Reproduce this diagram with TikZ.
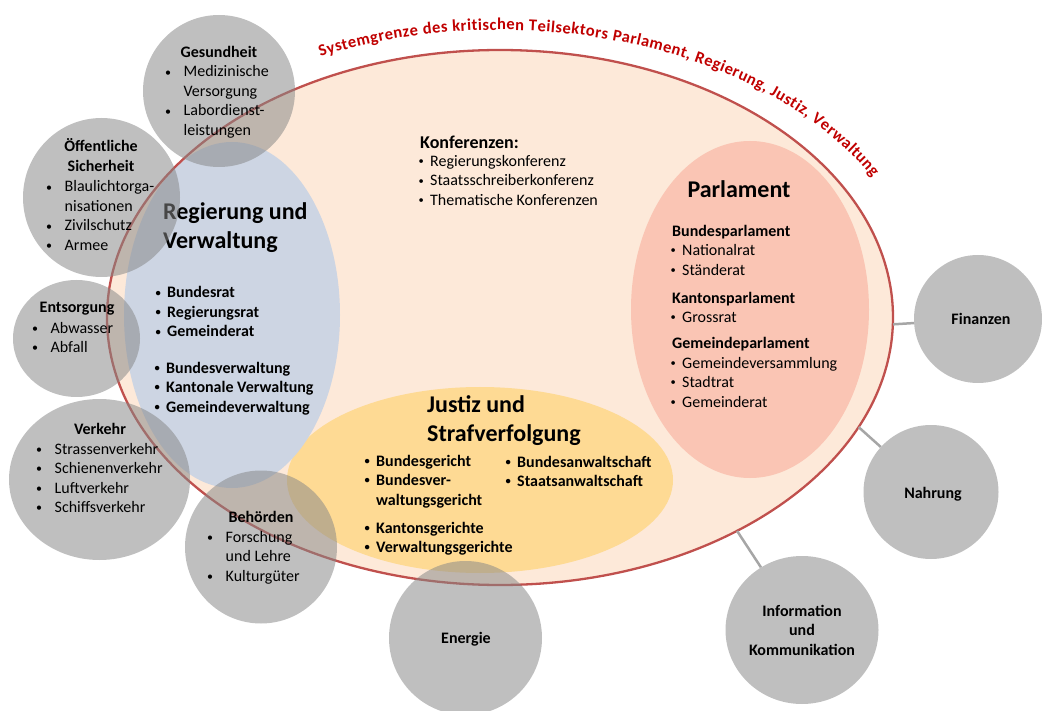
\documentclass[tikz,border=0pt]{standalone}
\usepackage{fontspec}
\setmainfont{Carlito}
\usetikzlibrary{shapes.geometric,decorations.text}
\definecolor{peach}{HTML}{FDE9D9}
\definecolor{sysred}{HTML}{C0504D}
\definecolor{regblue}{HTML}{CDD5E3}
\definecolor{parl}{HTML}{FAC5B4}
\definecolor{just}{HTML}{FEDA94}
\definecolor{cgrey}{HTML}{878787}
\definecolor{conngrey}{HTML}{A6A6A6}
\definecolor{arcred}{HTML}{C00000}
\newcommand\bulA{\makebox[19.5pt][l]{\hspace*{1pt}\fontsize{12}{12}\selectfont\raisebox{0.8pt}{•}}}
\newcommand\indA{\hspace*{19.5pt}}
\newcommand\bulB{\makebox[13pt][l]{\hspace*{1.5pt}\fontsize{10.5}{10.5}\selectfont\raisebox{1.6pt}{•}}}
\newcommand\indB{\hspace*{13pt}}
\newcommand\arcfnt{\bfseries\fontsize{16.5}{18}\selectfont}
\begin{document}
\begin{tikzpicture}[x=1pt,y=1pt,
  ell/.style={ellipse, inner sep=0pt, draw=none},
  cat/.style={ellipse, inner sep=0pt, fill=cgrey, fill opacity=0.53, draw=none},
  body/.style={inner sep=0pt, align=left, anchor=base west, font=\fontsize{16}{19.5}\selectfont},
  bbody/.style={body, font=\fontsize{16}{19.5}\selectfont\bfseries},
  ttl/.style={inner sep=0pt, align=left, anchor=base west, font=\fontsize{24}{28.5}\selectfont\bfseries},
  ctitle/.style={inner sep=0pt, align=center, anchor=base, font=\fontsize{16}{19.5}\selectfont\bfseries},
  link/.style={draw=conngrey, line width=2.5pt},
]
\useasboundingbox (0,0) rectangle (1042,-711);

% main sector ellipse and inner areas
\node[ell, fill=peach, minimum width=786pt, minimum height=535pt] (sys) at (500,-317.5) {};
\node[ell, fill=just, minimum width=386pt, minimum height=186pt] (jus) at (480,-480) {};
\node[ell, fill=regblue, minimum width=216pt, minimum height=346pt] (reg) at (232,-315) {};
\node[ell, fill=parl, minimum width=238pt, minimum height=337pt] (par) at (750,-309.5) {};
\draw[sysred, line width=2.3pt] (sys.center) ellipse [x radius=393, y radius=267.5];

% (multi-line nodes are anchored at the baseline of their last line)
% Konferenzen
\node[inner sep=0pt, anchor=base west, font=\fontsize{18}{20}\selectfont\bfseries] (konf-t) at (420,-149) {Konferenzen:};
\node[body] (konf-l) at (417,-205.5) {\bulB Regierungskonferenz\\\bulB Staatsschreiberkonferenz\\\bulB Thematische Konferenzen};

% Regierung und Verwaltung
\node[ttl] (reg-t) at (163,-248.5) {Regierung und\\Verwaltung};
\node[bbody] (reg-l1) at (154,-337) {\bulB Bundesrat\\\bulB Regierungsrat\\\bulB Gemeinderat};
\node[bbody] (reg-l2) at (153,-412) {\bulB Bundesverwaltung\\\bulB Kantonale Verwaltung\\\bulB Gemeindeverwaltung};

% Parlament
\node[inner sep=0pt, anchor=base, font=\fontsize{24}{28.5}\selectfont\bfseries] (par-t) at (739,-198) {Parlament};
\node[body] (par-l) at (669,-407) {\hspace*{3pt}\textbf{Bundesparlament}\\\bulB Nationalrat\\\bulB Ständerat\\[8.5pt]
\hspace*{3pt}\textbf{Kantonsparlament}\\\bulB Grossrat\\[6.5pt]
\hspace*{3pt}\textbf{Gemeindeparlament}\\\bulB Gemeindeversammlung\\\bulB Stadtrat\\\bulB Gemeinderat};

% Justiz
\node[ttl] (jus-t) at (427,-441.5) {Justiz und\\Strafverfolgung};
\node[bbody] (jus-l) at (363,-552.5) {\bulB Bundesgericht\\\bulB Bundesver-\\\indB waltungsgericht\\[8.5pt]\bulB Kantonsgerichte\\\bulB Verwaltungsgerichte};
\node[bbody] (jus-r) at (504,-486.5) {\bulB Bundesanwaltschaft\\\bulB Staatsanwaltschaft};

% connectors
\node[cat, minimum width=128pt, minimum height=128pt] (fin) at (978,-319) {};
\node[cat, minimum width=135pt, minimum height=134pt] (nah) at (931,-492) {};
\node[cat, minimum width=153pt, minimum height=148pt] (ikt) at (802,-630) {};
\draw[link] (sys.-1) -- (fin);
\draw[link] (sys.-17) -- (nah);
\draw[link] (sys.-42) -- (ikt);

% grey sector circles
\node[cat, minimum width=152pt, minimum height=152pt] (ges) at (219,-91) {};
\node[cat, minimum width=157pt, minimum height=159pt] (oef) at (101.5,-197.5) {};
\node[cat, minimum width=127pt, minimum height=117pt] (ent) at (76.5,-338.5) {};
\node[cat, minimum width=181pt, minimum height=161pt] (ver) at (99.5,-479.5) {};
\node[cat, minimum width=152pt, minimum height=153pt] (beh) at (261,-547) {};
\node[cat, minimum width=153pt, minimum height=154pt] (ene) at (465.5,-638) {};

% circle texts
\node[ctitle] (ges-t) at (219,-58) {Gesundheit};
\node[body] (ges-l) at (164,-135.5) {\bulA Medizinische\\\indA Versorgung\\\bulA Labordienst-\\\indA leistungen};
\node[ctitle] (oef-t) at (101,-171.5) {Öffentliche\\Sicherheit};
\node[body] (oef-l) at (45,-250.5) {\bulA Blaulichtorga-\\\indA nisationen\\\bulA Zivilschutz\\\bulA Armee};
\node[ctitle] (ent-t) at (77,-313) {Entsorgung};
\node[body] (ent-l) at (31,-352.5) {\bulA Abwasser\\\bulA Abfall};
\node[ctitle] (ver-t) at (100,-434) {Verkehr};
\node[body] (ver-l) at (35,-512.5) {\bulA Strassenverkehr\\\bulA Schienenverkehr\\\bulA Luftverkehr\\\bulA Schiffsverkehr};
\node[ctitle] (beh-t) at (261,-522) {Behörden};
\node[body] (beh-l) at (206,-581) {\bulA Forschung\\\indA und Lehre\\\bulA Kulturgüter};
\node[ctitle] (ene-t) at (466,-643) {Energie};
\node[ctitle] (fin-t) at (981,-325) {Finanzen};
\node[ctitle] (nah-t) at (933,-498) {Nahrung};
\node[ctitle] (ikt-t) at (802,-655) {Information\\und\\Kommunikation};

% arched boundary label
\path[decorate, decoration={text along path, text align=fit to path, text color=arcred,
  text={|\arcfnt|Systemgrenze des kritischen Teilsektors  Parlament, Regierung, Justiz, Verwaltung}}]
  ([shift={(500,-315)}]115:425 and 285) arc[start angle=115, end angle=29, x radius=425, y radius=285];
\end{tikzpicture}
\end{document}
